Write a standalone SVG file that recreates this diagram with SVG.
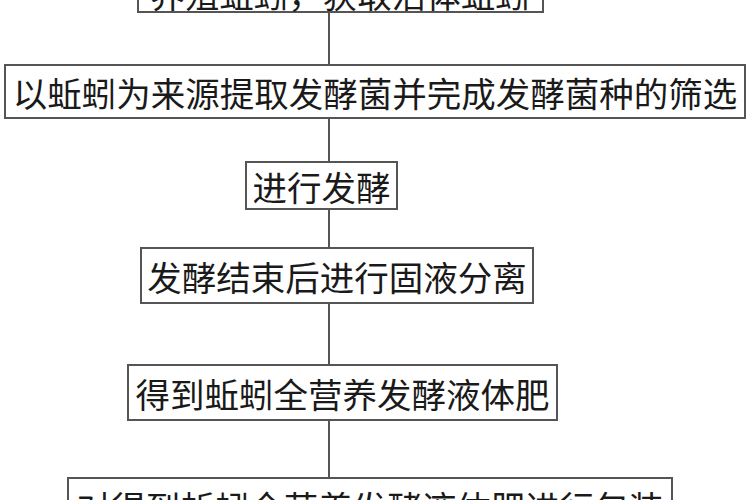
<svg xmlns="http://www.w3.org/2000/svg" width="750" height="500" viewBox="0 0 750 500">
<style>
.box{fill:#fff;stroke:#555;stroke-width:2}
.lbl{font-family:"Noto Sans CJK SC","Noto Sans",sans-serif;font-size:34.5px;fill:#1a1a1a;text-anchor:middle;dominant-baseline:central}
.conn line{stroke:#555;stroke-width:2}
</style>
<rect width="750" height="500" fill="#fff"/>
<g class="conn">
<line x1="329" y1="12" x2="329" y2="65"/>
<line x1="329" y1="118" x2="329" y2="162"/>
<line x1="329" y1="209" x2="329" y2="248"/>
<line x1="329" y1="303" x2="329" y2="365"/>
<line x1="329" y1="420" x2="329" y2="478"/>
</g>
<g id="n1"><rect class="box" x="138" y="-45" width="405" height="57"/><text class="lbl" x="340" y="-7">养殖蚯蚓，获取活体蚯蚓</text></g>
<g id="n2"><rect class="box" x="5" y="65" width="740" height="53"/><text class="lbl" x="375" y="92">以蚯蚓为来源提取发酵菌并完成发酵菌种的筛选</text></g>
<g id="n3"><rect class="box" x="246" y="162" width="151" height="47"/><text class="lbl" x="321.5" y="186">进行发酵</text></g>
<g id="n4"><rect class="box" x="141" y="248" width="392" height="55"/><text class="lbl" x="337" y="276">发酵结束后进行固液分离</text></g>
<g id="n5"><rect class="box" x="128" y="365" width="429" height="55"/><text class="lbl" x="342.5" y="393">得到蚯蚓全营养发酵液体肥</text></g>
<g id="n6"><rect class="box" x="68" y="478" width="604" height="60"/><text class="lbl" x="370" y="506">对得到蚯蚓全营养发酵液体肥进行包装</text></g>
</svg>
